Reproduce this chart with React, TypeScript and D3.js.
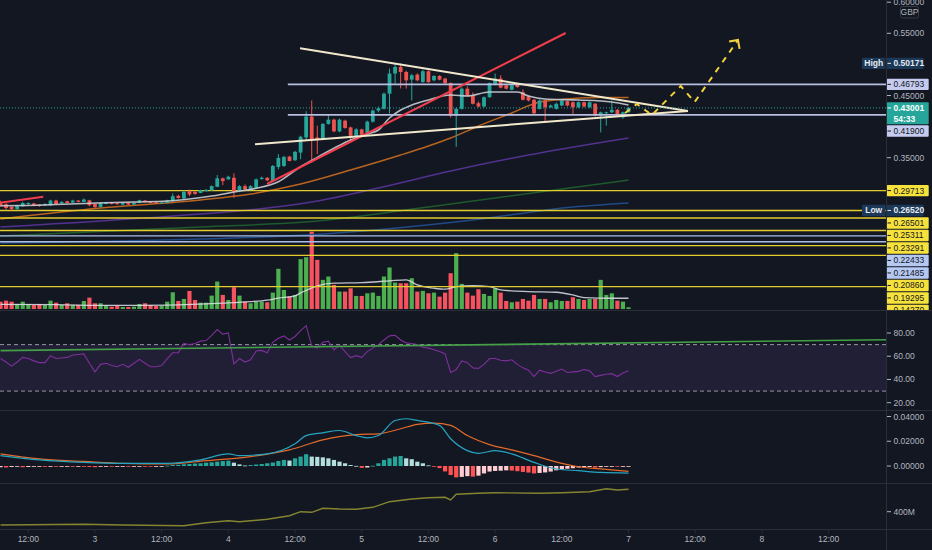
import React from "react";
import * as d3 from "d3";

// ---------------- data ----------------
const FIRST_CANDLE = Date.UTC(2023, 0, 2, 7);
const HOUR = 3600 * 1000;

const opens = [
  0.2789, 0.2751, 0.2711, 0.2675, 0.2719, 0.2756, 0.2763, 0.2747, 0.2735, 0.2735,
  0.2811, 0.2768, 0.28, 0.2779, 0.2811, 0.2789, 0.2816, 0.2756, 0.2708, 0.2756,
  0.2779, 0.2768, 0.2747, 0.2779, 0.2747, 0.2772, 0.2811, 0.2795, 0.2784, 0.2768,
  0.2772, 0.28, 0.2886, 0.2844, 0.2962, 0.2951, 0.2934, 0.2962, 0.2973, 0.3032,
  0.3168, 0.3152, 0.3177, 0.2962, 0.3043, 0.299, 0.3016, 0.3156, 0.3177, 0.3124,
  0.3351, 0.3367, 0.3518, 0.3459, 0.3583, 0.3825, 0.4161, 0.3825, 0.38, 0.4043,
  0.4112, 0.3923, 0.4096, 0.3987, 0.3853, 0.3955, 0.3869, 0.408, 0.4258, 0.4286,
  0.4529, 0.4853, 0.4959, 0.4878, 0.4755, 0.4836, 0.4716, 0.489, 0.4744, 0.4814,
  0.4772, 0.47, 0.4177, 0.4286, 0.461, 0.4501, 0.4376, 0.4323, 0.4473, 0.4679,
  0.4772, 0.4663, 0.4593, 0.4679, 0.4554, 0.4485, 0.4431, 0.4286, 0.442, 0.4311,
  0.4286, 0.4339, 0.4409, 0.4392, 0.4311, 0.4392, 0.4311, 0.4367, 0.4177, 0.4214,
  0.423, 0.4269, 0.415, 0.423,
];
const highs = [
  0.2808, 0.2768, 0.2727, 0.2743, 0.2792, 0.2784, 0.2776, 0.2751, 0.2768, 0.2824,
  0.2824, 0.28, 0.2808, 0.2824, 0.2816, 0.2844, 0.2824, 0.2768, 0.2784, 0.2792,
  0.2789, 0.2776, 0.2784, 0.2789, 0.2784, 0.2824, 0.2821, 0.28, 0.2789, 0.2789,
  0.2824, 0.2925, 0.2905, 0.297, 0.299, 0.2962, 0.2986, 0.2994, 0.3054, 0.3221,
  0.3181, 0.321, 0.3249, 0.3059, 0.3071, 0.3059, 0.3165, 0.3197, 0.3189, 0.3383,
  0.3557, 0.3529, 0.3529, 0.361, 0.3853, 0.4247, 0.442, 0.4015, 0.4056, 0.4193,
  0.4128, 0.4128, 0.4112, 0.3999, 0.3975, 0.3966, 0.4096, 0.4274, 0.4323, 0.455,
  0.4934, 0.5017, 0.5015, 0.4898, 0.4849, 0.4857, 0.4914, 0.4906, 0.4825, 0.4825,
  0.4785, 0.4712, 0.4307, 0.4631, 0.4647, 0.455, 0.4404, 0.4485, 0.4712, 0.4853,
  0.4825, 0.4679, 0.4679, 0.4695, 0.4598, 0.4501, 0.4444, 0.4436, 0.4436, 0.4355,
  0.4388, 0.4444, 0.442, 0.4404, 0.4404, 0.4404, 0.4404, 0.438, 0.4242, 0.4242,
  0.442, 0.4282, 0.4242, 0.4315,
];
const lows = [
  0.2711, 0.2652, 0.2654, 0.2662, 0.2711, 0.2743, 0.2719, 0.2711, 0.2727, 0.2727,
  0.2743, 0.276, 0.2768, 0.2772, 0.2784, 0.2784, 0.2719, 0.2687, 0.2695, 0.2751,
  0.2751, 0.2743, 0.2735, 0.274, 0.274, 0.2768, 0.2779, 0.2768, 0.2763, 0.2756,
  0.2768, 0.2792, 0.2841, 0.2832, 0.2881, 0.2905, 0.293, 0.2954, 0.2967, 0.3027,
  0.3059, 0.3145, 0.2853, 0.2946, 0.2962, 0.2978, 0.3011, 0.3148, 0.3124, 0.3116,
  0.3314, 0.3351, 0.344, 0.3448, 0.3476, 0.3772, 0.342, 0.3557, 0.3788, 0.4031,
  0.391, 0.391, 0.3966, 0.3744, 0.3837, 0.3853, 0.3853, 0.4064, 0.423, 0.4274,
  0.4209, 0.4691, 0.4614, 0.461, 0.442, 0.4728, 0.4704, 0.4704, 0.4728, 0.4744,
  0.4679, 0.4145, 0.3675, 0.4274, 0.4485, 0.4355, 0.4307, 0.4307, 0.4461, 0.4663,
  0.4614, 0.4598, 0.4582, 0.4623, 0.442, 0.4404, 0.4193, 0.4274, 0.4068, 0.4298,
  0.4274, 0.4331, 0.4323, 0.4205, 0.4298, 0.4307, 0.4298, 0.4161, 0.3907, 0.4015,
  0.4218, 0.4161, 0.4124, 0.4226,
];
const closes = [
  0.273, 0.2691, 0.2675, 0.273, 0.2772, 0.2772, 0.273, 0.2724, 0.2756, 0.2811,
  0.2756, 0.2789, 0.2772, 0.2811, 0.2789, 0.2828, 0.2735, 0.2708, 0.2772, 0.2784,
  0.2756, 0.2756, 0.2772, 0.2747, 0.2779, 0.2816, 0.2784, 0.2772, 0.2768, 0.2779,
  0.2811, 0.2881, 0.2853, 0.2951, 0.2909, 0.2918, 0.2978, 0.2983, 0.3043, 0.3168,
  0.3124, 0.3194, 0.2951, 0.3043, 0.299, 0.3043, 0.3152, 0.3177, 0.3135, 0.3367,
  0.3497, 0.3513, 0.3448, 0.3594, 0.3837, 0.4161, 0.38, 0.3783, 0.4043, 0.4112,
  0.3923, 0.4112, 0.3978, 0.3853, 0.3955, 0.3869, 0.408, 0.4258, 0.4295, 0.4529,
  0.4853, 0.4959, 0.4878, 0.4744, 0.4825, 0.4744, 0.489, 0.4716, 0.4814, 0.4755,
  0.47, 0.4177, 0.4286, 0.461, 0.4501, 0.4367, 0.4323, 0.4473, 0.47, 0.4772,
  0.4626, 0.461, 0.4663, 0.4636, 0.4431, 0.442, 0.4214, 0.442, 0.4311, 0.4339,
  0.4367, 0.442, 0.4339, 0.4311, 0.4392, 0.4323, 0.4392, 0.4177, 0.423, 0.423,
  0.4269, 0.4177, 0.423, 0.43,
];
const volumes = [
  9.5, 10.8, 9.5, 6.5, 9.5, 6.5, 5.2, 6.5, 5.2, 10.8,
  8.2, 5.2, 7.4, 5.2, 5.2, 10.4, 14.7, 7.4, 7.4, 4.3,
  3.0, 4.3, 2.6, 2.6, 3.0, 6.5, 7.4, 5.2, 3.9, 4.3,
  9.5, 21.6, 10.4, 13.0, 23.4, 11.7, 8.2, 8.2, 17.3, 35.5,
  18.2, 11.7, 28.2, 17.3, 9.5, 7.4, 9.5, 9.5, 8.7, 21.2,
  52, 24.7, 16, 18.2, 64.5, 67, 100, 63.6, 37.7, 42,
  31.2, 22.5, 22.5, 26.8, 16.9, 16.9, 20.3, 21.2, 16.9, 42,
  53.7, 34.2, 33.3, 33.3, 39.8, 22.5, 23.4, 20.3, 21.2, 16,
  21.2, 46.3, 72.3, 32.5, 21.2, 17.3, 25.6, 19.5, 16.9, 26.8,
  21.2, 10.4, 8.7, 9.5, 13, 10.8, 18.2, 13, 13, 8.7,
  11.7, 10.4, 10.4, 15.2, 13, 11.7, 13, 13, 37.7, 18.2,
  20.3, 10.8, 9.5, 2.2,
];
const volumeMA = [
  [0, 6.0], [10, 5.6], [20, 4.6], [30, 5.0], [40, 7.5], [45, 9.5], [48, 11.5], [50, 14],
  [53, 17], [54, 20.8], [55, 24], [57, 30], [60, 33.4], [65, 34.2], [70, 36.4], [73, 37.7],
  [75, 31.2], [78, 26.9], [80, 25.6], [82, 29], [85, 30.3], [88, 29], [90, 24.7], [95, 22.5],
  [100, 21.7], [103, 18.2], [105, 14.7], [110, 13.9], [113, 13.9],
];
const ma20 = [
  [0, 0.2728], [8, 0.274], [16, 0.2767], [24, 0.2788], [30, 0.2804], [34, 0.2836], [38, 0.2883],
  [42, 0.2948], [46, 0.3008], [50, 0.3114], [54, 0.3355], [57, 0.3506], [60, 0.3651], [63, 0.3785],
  [66, 0.3881], [68, 0.3945], [70, 0.4138], [72, 0.4267], [74, 0.4347], [77, 0.4428], [81, 0.4508],
  [84, 0.4492], [88, 0.4556], [93, 0.4556], [95, 0.4492], [98, 0.4444], [104, 0.4428], [110, 0.4396],
  [113, 0.4347],
];
const ma50 = [
  [0, 0.2514], [18, 0.2691], [36, 0.282], [45, 0.2916], [54, 0.3077], [63, 0.3302], [72, 0.3543],
  [77, 0.3688], [81, 0.3817], [86, 0.401], [92, 0.4219], [97, 0.4395], [102, 0.4444], [108, 0.4468],
  [113, 0.4468],
];
const ma100 = [
  [0, 0.2386], [31, 0.2563], [48, 0.2691], [57, 0.2804], [68, 0.3013], [81, 0.3286], [95, 0.3543],
  [113, 0.3817],
];
const ma150 = [[0, 0.2241], [36, 0.2386], [57, 0.2482], [77, 0.2707], [113, 0.3141]];
const ma200 = [[0, 0.2129], [36, 0.2193], [55, 0.2257], [85, 0.2499], [103, 0.2707], [113, 0.2772]];

const rsi = [
  58, 55, 51.5, 55, 59, 58, 56, 54.5, 54.5, 60.5,
  58, 58.5, 59, 61, 61.5, 62, 54, 46.5, 53, 54,
  52, 51, 53, 50.5, 54, 57.3, 54, 51, 51, 52,
  58, 63, 63, 71, 70, 71, 73, 73.5, 78, 83,
  79, 80, 53.5, 58, 55, 57, 64.5, 65, 63, 72,
  75.5, 77.5, 74, 77, 82, 86.3, 69, 67, 72, 73,
  65.4, 69.5, 64, 58.8, 60.5, 59, 64, 67, 70, 74,
  77.5, 78, 74, 71.5, 71, 70, 67.7, 67, 65.5, 64,
  62, 46, 48.5, 56, 54.5, 50, 49.5, 53, 58, 58,
  56.5, 56, 57, 53, 50, 48, 42.4, 48, 46.5, 45.3,
  47, 49, 46, 46.5, 47, 48.5, 47.5, 42.5, 43.5, 44.5,
  45, 42.5, 45.5, 47.5,
];
const rsiTrend = [[0, 64.8], [116.9, 71.7]];

const macdLine = [
  [0, 0.0084], [7, 0.0049], [15, 0.0029], [22, 0.0021], [30, 0.0021], [36, 0.0049], [41, 0.0098],
  [43, 0.0084], [48, 0.0098], [53, 0.0179], [55, 0.0246], [58, 0.0268], [61, 0.0287], [64, 0.0246],
  [66, 0.0228], [68, 0.0246], [71, 0.0368], [73, 0.0382], [75, 0.0368], [79, 0.0328], [81, 0.022],
  [84, 0.0124], [86, 0.0102], [89, 0.0124], [92, 0.0098], [96, 0.0029], [100, -0.0024],
  [104, -0.0038], [108, -0.0052], [113, -0.0057],
];
const signalLine = [
  [0, 0.0098], [7, 0.0057], [15, 0.0037], [22, 0.0021], [30, 0.0016], [37, 0.0043], [45, 0.0076],
  [52, 0.013], [58, 0.0211], [64, 0.0254], [68, 0.026], [72, 0.0301], [75, 0.0336], [78, 0.0346],
  [81, 0.0328], [84, 0.0246], [88, 0.0173], [92, 0.013], [96, 0.0084], [101, 0.0021],
  [104, -0.0006], [108, -0.0024], [113, -0.0044],
];
const histogram = [
  -0.001, -0.0012, -0.0008, -0.0006, -0.001, -0.0008, -0.0006, -0.0005, -0.0007, -0.0004,
  -0.0006, -0.0005, -0.0003, -0.0004, -0.0002, -0.0004, -0.0008, -0.001, -0.0006, -0.0004,
  -0.0005, -0.0004, -0.0003, -0.0004, -0.0002, -0.0001, -0.0002, -0.0003, -0.0002, -0.0001,
  0.0003, 0.0008, 0.001, 0.0014, 0.0016, 0.002, 0.0022, 0.0027, 0.003, 0.0035,
  0.004, 0.0043, 0.0027, 0.0013, 0.0004, 0.0008, 0.0012, 0.0016, 0.0022, 0.0028,
  0.004, 0.0049, 0.0044, 0.0062, 0.0076, 0.0095, 0.0076, 0.0074, 0.007, 0.0062,
  0.0049, 0.0035, 0.0022, 0.0008, 0.0001, -0.0015, -0.0012, 0.0002, 0.0022, 0.0049,
  0.0062, 0.0076, 0.0081, 0.0062, 0.0055, 0.0035, 0.0022, 0.0005, -0.0002, -0.0017,
  -0.0044, -0.0073, -0.0092, -0.0088, -0.0082, -0.0086, -0.0078, -0.006, -0.0045, -0.004,
  -0.0038, -0.0035, -0.0037, -0.0042, -0.0048, -0.0053, -0.006, -0.0056, -0.0052, -0.0045,
  -0.0035, -0.0028, -0.0022, -0.0018, -0.0012, -0.001, -0.0008, -0.0013, -0.0009, -0.0006,
  -0.0004, -0.0006, -0.0004, -0.0003,
];
const obv = [
  [0, 333.5], [15, 337], [22, 333.5], [33, 330], [37, 345], [41, 355], [43, 350], [48, 362],
  [52, 380], [54, 400], [56, 397], [58, 417], [61, 413.5], [64, 412], [67, 422], [70, 450],
  [74, 463.5], [77, 470], [80, 472], [81, 458.5], [82, 487], [86, 492], [89, 495], [97, 492],
  [101, 495], [106, 500], [109, 515], [111, 508.5], [113, 512],
];

// drawings (candle index, price)
const triangleUpper = [[53.9, 0.5259], [123.7, 0.4251]];
const triangleLower = [[45.8, 0.3715], [123.7, 0.4251]];
const redTrend = [[47.95, 0.3077], [101.7, 0.5505]];
const redShort = [[-0.1, 0.2777], [7.7, 0.2873]];
const projection = [
  [112.4, 0.4219], [114.5, 0.4363], [117.2, 0.4186], [122.4, 0.4653], [124.9, 0.4395], [132.7, 0.5392],
];
const yellowLevels = [0.29713, 0.26501, 0.25311, 0.23291, 0.2086, 0.19295, 0.1427];
const blueLevels = [0.22433, 0.21485];
const grayLevels = [0.46793, 0.419];
const grayLevelStart = 51.7;

const CURRENT_PRICE = 0.43001;
const COUNTDOWN = "54:33";
const HIGH_PRICE = 0.50171;
const LOW_PRICE = 0.2652;

const priceTicks = [0.15, 0.2, 0.25, 0.3, 0.35, 0.4, 0.45, 0.5, 0.55, 0.6];
const rsiTicks = [20, 40, 60, 80];
const macdTicks = [0, 0.02, 0.04];
const obvTicks = [400];

// ---------------- layout ----------------
const W = 932;
const H = 550;
const AX = 886;
const FONT = "'Liberation Sans', Arial, sans-serif";
const BG = "#131722";
const TXT = "#b2b5be";
const SEP = "#2a2e39";
const UP = "#26a69a";
const DOWN = "#ef5350";
const NAVY = "#1c3857";

export default function App() {
  const x = d3
    .scaleUtc()
    .domain([new Date(FIRST_CANDLE), new Date(FIRST_CANDLE + 113 * HOUR)])
    .range([0.5, 628.5]);
  const xi = (i: number) => x(new Date(FIRST_CANDLE + i * HOUR));
  const indexAt = (px: number) => (x.invert(px).getTime() - FIRST_CANDLE) / HOUR;

  const y = d3.scaleLinear().domain([0.35, 0.55]).range([157.7, 33.3]);
  const yVol = d3.scaleLinear().domain([0, 100]).range([309, 231.7]);
  const yRsi = d3.scaleLinear().domain([20, 80]).range([402.7, 333]);
  const yMacd = d3.scaleLinear().domain([0, 0.04]).range([466, 416.5]);
  const yObv = d3.scaleLinear().domain([400, 600]).range([511.7, 471.7]);

  const fmt5 = d3.format(".5f");
  const fmt2 = d3.format(".2f");

  const idx = d3.range(closes.length);
  const bodyW = 3.8;
  const barW = 4.2;

  const priceLine = d3.line<number[]>().x((d) => xi(d[0])).y((d) => y(d[1]));
  const smoothPrice = d3
    .line<number[]>()
    .x((d) => xi(d[0]))
    .y((d) => y(d[1]))
    .curve(d3.curveMonotoneX);
  const volLine = d3
    .line<number[]>()
    .x((d) => xi(d[0]))
    .y((d) => yVol(d[1]))
    .curve(d3.curveMonotoneX);
  const rsiLine = d3
    .line<number>()
    .x((_, i) => xi(i))
    .y((d) => yRsi(d));
  const macdGen = d3
    .line<number[]>()
    .x((d) => xi(d[0]))
    .y((d) => yMacd(d[1]))
    .curve(d3.curveMonotoneX);
  const obvGen = d3
    .line<number[]>()
    .x((d) => xi(d[0]))
    .y((d) => yObv(d[1]));

  // RSI trend ray extended to the axis
  const endIdx = indexAt(AX);
  const [r0, r1] = rsiTrend;
  const rEnd = r0[1] + ((r1[1] - r0[1]) * (endIdx - r0[0])) / (r1[0] - r0[0]);

  // arrow head of projection
  const pts = projection.map((d) => [xi(d[0]), y(d[1])]);
  const tip = pts[pts.length - 1];
  const prev = pts[pts.length - 2];
  const back = Math.atan2(prev[1] - tip[1], prev[0] - tip[0]);
  const aLen = 9;
  const wing = (a: number) => [tip[0] + aLen * Math.cos(a), tip[1] + aLen * Math.sin(a)];
  const w1 = wing(back + Math.PI / 4);
  const w2 = wing(back - Math.PI / 4);

  // right axis labels with stacking
  type Box = {
    value: number;
    text: string;
    bg: string;
    fg: string;
    w: number;
    tag?: string;
    sub?: string;
    bold?: boolean;
  };
  const boxes: Box[] = [
    { value: HIGH_PRICE, text: fmt5(HIGH_PRICE), bg: NAVY, fg: "#e6eaf2", w: 37, tag: "High", bold: true },
    ...grayLevels.map((v) => ({ value: v, text: fmt5(v), bg: "#c6ccef", fg: "#131722", w: 42 })),
    { value: CURRENT_PRICE, text: fmt5(CURRENT_PRICE), sub: COUNTDOWN, bg: UP, fg: "#ffffff", w: 42, bold: true },
    ...yellowLevels.map((v) => ({ value: v, text: fmt5(v), bg: "#f7e23c", fg: "#131722", w: 42 })),
    ...blueLevels.map((v) => ({ value: v, text: fmt5(v), bg: "#b5c8f2", fg: "#131722", w: 42 })),
    { value: LOW_PRICE, text: fmt5(LOW_PRICE), bg: NAVY, fg: "#e6eaf2", w: 37, tag: "Low", bold: true },
  ];
  const sorted = [...boxes].sort((a, b) => y(a.value) - y(b.value));
  let prevBottom = -Infinity;
  const placed = sorted.map((b) => {
    const h = b.sub ? 22 : 11.4;
    let top = y(b.value) - 5.7;
    if (top < prevBottom + 1.1) top = prevBottom + 1.1;
    prevBottom = top + h;
    return { ...b, top, h };
  });
  const visibleTicks = priceTicks.filter((t) => {
    const ty = y(t);
    return !placed.some((b) => ty > b.top - 5 && ty < b.top + b.h + 5);
  });

  const tickTimes = d3
    .utcHour.every(12)!
    .range(new Date(Date.UTC(2023, 0, 2, 12)), new Date(Date.UTC(2023, 0, 8, 12, 1)));
  const dayFmt = d3.utcFormat("%-d");

  const histColor = (i: number) => {
    const h = histogram[i];
    const p = i > 0 ? histogram[i - 1] : h;
    if (h >= 0) return h >= p ? "#26a69a" : "#b2dfdb";
    return h >= p ? "#ffcdd2" : "#ff5252";
  };

  const axisText = (ty: number, label: string, key: string) => (
    <g key={key}>
      <line x1={AX + 1} x2={AX + 5} y1={ty} y2={ty} stroke={TXT} strokeWidth={1} />
      <text x={893.5} y={ty + 3} fill={TXT} fontSize={8.5} fontFamily={FONT}>
        {label}
      </text>
    </g>
  );

  return (
    <svg
      width={W}
      height={H}
      viewBox={`0 0 ${W} ${H}`}
      style={{ position: "absolute", left: 0, top: 0, display: "block", background: BG }}
    >
      <defs>
        <clipPath id="cMain">
          <rect x={0} y={0} width={AX} height={310} />
        </clipPath>
        <clipPath id="cMainAxis">
          <rect x={0} y={0} width={W} height={310} />
        </clipPath>
        <clipPath id="cRsi">
          <rect x={0} y={310} width={AX} height={100} />
        </clipPath>
        <clipPath id="cMacd">
          <rect x={0} y={410} width={AX} height={73} />
        </clipPath>
        <clipPath id="cObv">
          <rect x={0} y={483} width={AX} height={46} />
        </clipPath>
      </defs>
      <rect x={0} y={0} width={W} height={H} fill={BG} />

      {/* ---------- main pane ---------- */}
      <g clipPath="url(#cMain)">
        {/* volume */}
        {idx.map((i) => (
          <rect
            key={`v${i}`}
            x={xi(i) - barW / 2}
            y={yVol(volumes[i])}
            width={barW}
            height={yVol(0) - yVol(volumes[i])}
            fill={closes[i] >= opens[i] ? "#4caf50" : "#f7525f"}
          />
        ))}
        <path d={volLine(volumeMA) || ""} fill="none" stroke="#dfe2ea" strokeOpacity={0.85} strokeWidth={1.3} />

        {/* long moving averages */}
        <path d={smoothPrice(ma200) || ""} fill="none" stroke="#1f4a86" strokeWidth={1.5} />
        <path d={smoothPrice(ma150) || ""} fill="none" stroke="#1e5a2c" strokeWidth={1.5} />
        <path d={smoothPrice(ma100) || ""} fill="none" stroke="#53318f" strokeWidth={1.5} />
        <path d={smoothPrice(ma50) || ""} fill="none" stroke="#b8641f" strokeWidth={1.5} />

        {/* horizontal levels */}
        {yellowLevels.map((v) => (
          <line key={`yl${v}`} x1={0} x2={AX} y1={y(v)} y2={y(v)} stroke="#e3cd2c" strokeWidth={1.4} />
        ))}
        {blueLevels.map((v) => (
          <line key={`bl${v}`} x1={0} x2={AX} y1={y(v)} y2={y(v)} stroke="#a9bde6" strokeWidth={1.4} />
        ))}

        {/* candles */}
        {idx.map((i) => {
          const up = closes[i] >= opens[i];
          const c = up ? UP : DOWN;
          const top = y(Math.max(opens[i], closes[i]));
          const bot = y(Math.min(opens[i], closes[i]));
          return (
            <g key={`c${i}`}>
              <line x1={xi(i)} x2={xi(i)} y1={y(highs[i])} y2={y(lows[i])} stroke={c} strokeWidth={1} />
              <rect x={xi(i) - bodyW / 2} y={top} width={bodyW} height={Math.max(1, bot - top)} fill={c} />
            </g>
          );
        })}

        {/* short MA */}
        <path d={smoothPrice(ma20) || ""} fill="none" stroke="#c9ccd4" strokeOpacity={0.9} strokeWidth={1.6} />

        {/* gray levels */}
        {grayLevels.map((v) => (
          <line
            key={`gl${v}`}
            x1={xi(grayLevelStart)}
            x2={AX}
            y1={y(v)}
            y2={y(v)}
            stroke="#b7bedf"
            strokeWidth={1.8}
          />
        ))}

        {/* trend lines */}
        <path d={priceLine(redTrend) || ""} stroke="#f23e4c" strokeWidth={2} fill="none" />
        <path d={priceLine(redShort) || ""} stroke="#f23e4c" strokeWidth={2} fill="none" />
        <path d={priceLine(triangleUpper) || ""} stroke="#f1e8cc" strokeWidth={2} fill="none" />
        <path d={priceLine(triangleLower) || ""} stroke="#f1e8cc" strokeWidth={2} fill="none" />

        {/* projection */}
        <path
          d={priceLine(projection) || ""}
          stroke="#f2d43d"
          strokeWidth={2}
          fill="none"
          strokeDasharray="6,6"
        />
        <path
          d={`M${w1[0]},${w1[1]}L${tip[0]},${tip[1]}L${w2[0]},${w2[1]}`}
          stroke="#f2d43d"
          strokeWidth={2}
          fill="none"
        />

        {/* current price line */}
        <line
          x1={0}
          x2={AX}
          y1={y(CURRENT_PRICE)}
          y2={y(CURRENT_PRICE)}
          stroke={UP}
          strokeWidth={1}
          strokeDasharray="1,2"
        />
      </g>

      {/* price axis */}
      <g clipPath="url(#cMainAxis)">
        {visibleTicks.map((t) => axisText(y(t), fmt5(t), `pt${t}`))}
        {placed.map((b, k) => (
          <g key={`lab${k}`}>
            {b.tag && (
              <>
                <rect x={862} y={b.top} width={23.5} height={b.h} fill={b.bg} rx={1} />
                <text
                  x={873.7}
                  y={b.top + 8.7}
                  fill={b.fg}
                  fontSize={8.5}
                  fontWeight={700}
                  fontFamily={FONT}
                  textAnchor="middle"
                >
                  {b.tag}
                </text>
              </>
            )}
            <rect x={886.7} y={b.top} width={b.w} height={b.h} fill={b.bg} rx={1} />
            <line x1={887.5} x2={891} y1={b.top + 5.7} y2={b.top + 5.7} stroke={b.fg} strokeWidth={1} />
            <text
              x={893.5}
              y={b.top + 8.7}
              fill={b.fg}
              fontSize={8.5}
              fontWeight={b.bold ? 700 : 400}
              fontFamily={FONT}
            >
              {b.text}
            </text>
            {b.sub && (
              <text x={893.5} y={b.top + 19.5} fill={b.fg} fontSize={8.5} fontWeight={700} fontFamily={FONT}>
                {b.sub}
              </text>
            )}
          </g>
        ))}
        <rect x={900.5} y={6.5} width={18} height={11.5} rx={2} fill={BG} stroke="#363a45" />
        <text x={909.5} y={15.3} fill={TXT} fontSize={8.5} fontFamily={FONT} textAnchor="middle">
          GBP
        </text>
      </g>

      {/* ---------- RSI pane ---------- */}
      <g clipPath="url(#cRsi)">
        <rect x={0} y={yRsi(70)} width={AX} height={yRsi(30) - yRsi(70)} fill="#7e57c2" fillOpacity={0.13} />
        <line x1={0} x2={AX} y1={yRsi(70)} y2={yRsi(70)} stroke="#9598a1" strokeDasharray="4,3" strokeWidth={1} />
        <line x1={0} x2={AX} y1={yRsi(30)} y2={yRsi(30)} stroke="#9598a1" strokeDasharray="4,3" strokeWidth={1} />
        <path d={rsiLine(rsi) || ""} fill="none" stroke="#7e2f9a" strokeWidth={1.1} />
        <line
          x1={xi(r0[0])}
          y1={yRsi(r0[1])}
          x2={AX}
          y2={yRsi(rEnd)}
          stroke="#43a047"
          strokeWidth={1.6}
        />
      </g>
      {rsiTicks.map((t) => axisText(yRsi(t), fmt2(t), `rt${t}`))}

      {/* ---------- MACD pane ---------- */}
      <g clipPath="url(#cMacd)">
        {idx.map((i) => {
          const y0 = yMacd(0);
          const yv = yMacd(histogram[i]);
          return (
            <rect
              key={`h${i}`}
              x={xi(i) - barW / 2}
              y={Math.min(y0, yv)}
              width={barW}
              height={Math.max(0.8, Math.abs(yv - y0))}
              fill={histColor(i)}
            />
          );
        })}
        <path d={macdGen(signalLine) || ""} fill="none" stroke="#e36a2a" strokeWidth={1.2} />
        <path d={macdGen(macdLine) || ""} fill="none" stroke="#26a5c2" strokeWidth={1.2} />
      </g>
      {macdTicks.map((t) => axisText(yMacd(t), fmt5(t), `mt${t}`))}

      {/* ---------- OBV pane ---------- */}
      <g clipPath="url(#cObv)">
        <path d={obvGen(obv) || ""} fill="none" stroke="#858530" strokeWidth={1.4} />
      </g>
      {obvTicks.map((t) => axisText(yObv(t), `${t}M`, `ot${t}`))}

      {/* separators */}
      {[310.5, 410.5, 483.5, 529.5].map((sy) => (
        <line key={`s${sy}`} x1={0} x2={W} y1={sy} y2={sy} stroke={SEP} strokeWidth={1} />
      ))}
      <line x1={AX + 0.5} x2={AX + 0.5} y1={0} y2={H} stroke={SEP} strokeWidth={1} />

      {/* time axis */}
      {tickTimes.map((t) => (
        <g key={`tt${t.getTime()}`}>
          <line x1={x(t)} x2={x(t)} y1={530} y2={533} stroke={SEP} />
          <text x={x(t)} y={542} fill={TXT} fontSize={8.5} fontFamily={FONT} textAnchor="middle">
            {t.getUTCHours() === 12 ? "12:00" : dayFmt(t)}
          </text>
        </g>
      ))}
    </svg>
  );
}
